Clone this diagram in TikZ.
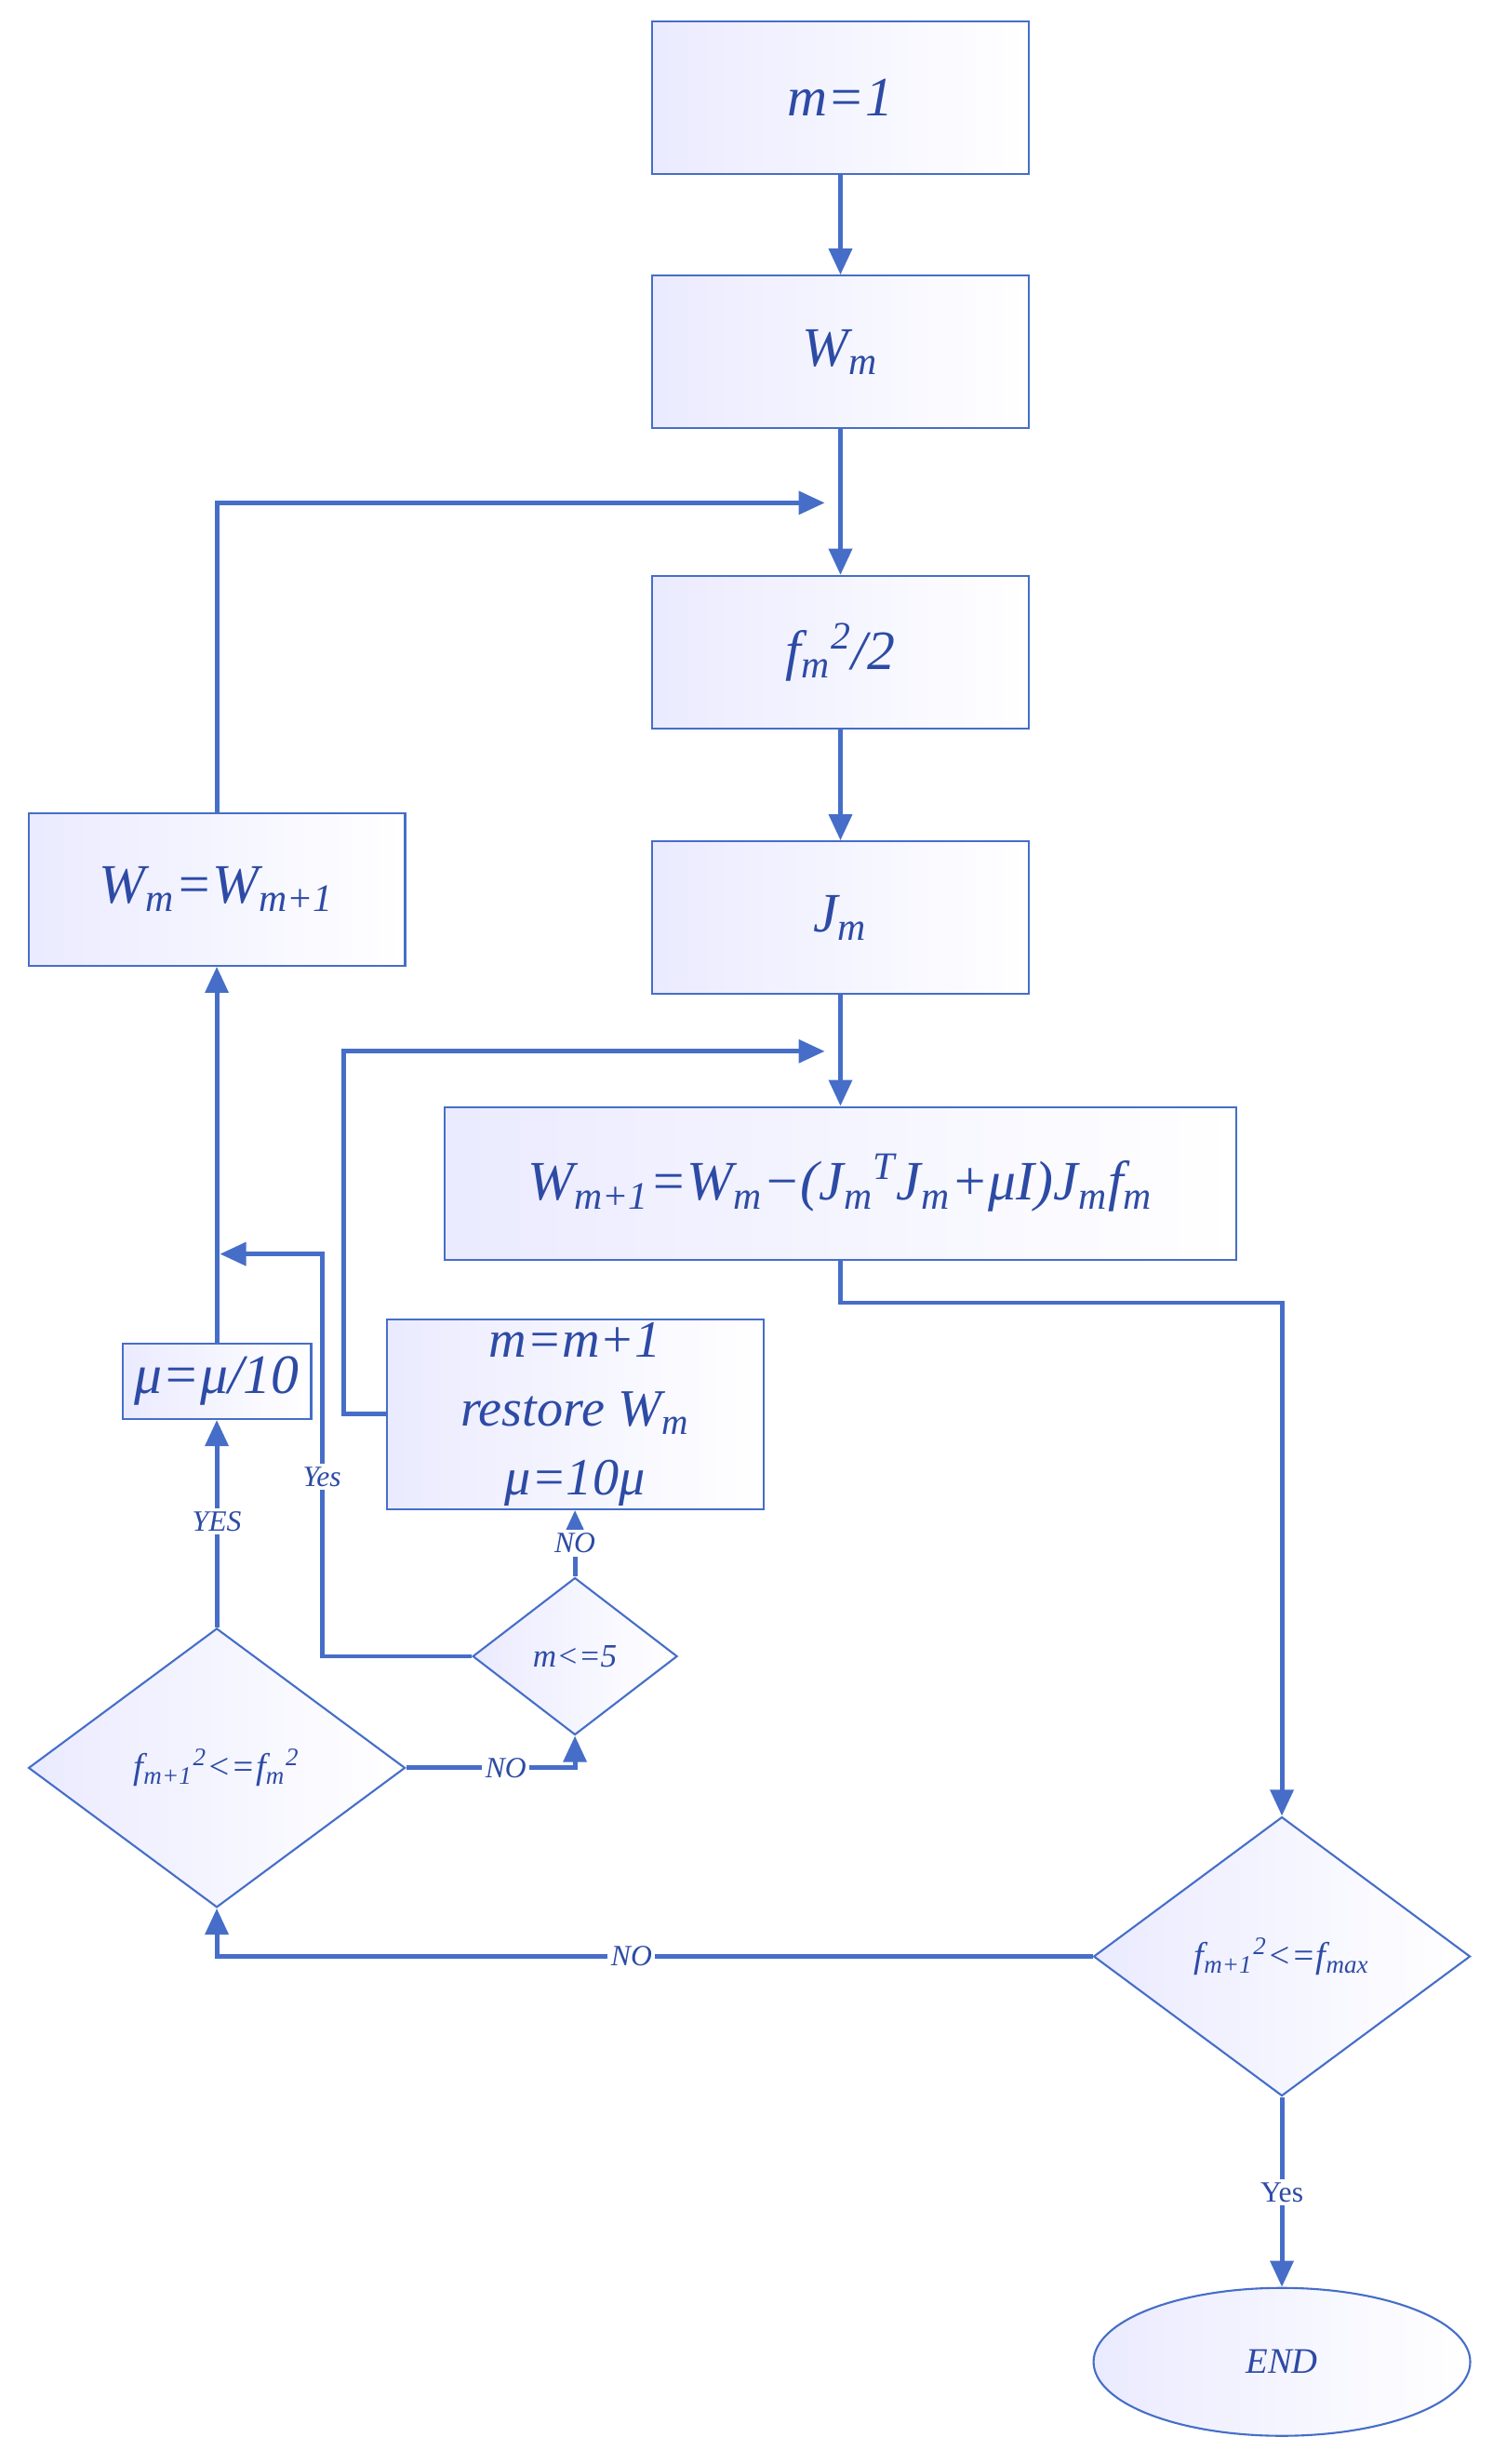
\documentclass[tikz,border=0pt]{standalone}
\usepackage{fontspec}
\setmainfont{Liberation Serif}
\usetikzlibrary{shapes.geometric,arrows.meta}
\definecolor{bd}{RGB}{70,110,200}
\definecolor{tx}{RGB}{45,75,165}
\newcommand\sbs[1]{\textsubscript{#1}}
\newcommand\sps[1]{\textsuperscript{#1}}
\begin{document}
\begin{tikzpicture}[x=0.01689cm,y=-0.01689cm,
  base/.style={draw=bd,line width=0.6pt,left color=blue!8,right color=white,text=tx,font=\itshape,inner sep=0pt},
  box/.style={base,rectangle,minimum width=4.05cm,minimum height=1.64cm,font=\fontsize{17}{21}\selectfont\itshape},
  dia/.style={base,diamond,minimum width=4.05cm,minimum height=3.0cm,font=\fontsize{11}{13}\selectfont\itshape},
  ar/.style={draw=bd,line width=1.4pt,-{Triangle[width=7pt,length=8pt]}},
  lab/.style={fill=white,text=tx,inner sep=1pt,font=\fontsize{9}{11}\selectfont\itshape}]
\useasboundingbox (0,0) rectangle (950,1568);
\node[box] (a) at (535,62) {m=1};
\node[box] (b) at (535,224) {W\sbs{m}};
\node[box] (c) at (535,415) {f\sbs{m}\sps{2}/2};
\node[box] (d) at (535,584) {J\sbs{m}};
\node[box,minimum width=8.51cm] (e) at (535,753) {W\sbs{m+1}=W\sbs{m}−(J\sbs{m}\sps{T}J\sbs{m}+μI)J\sbs{m}f\sbs{m}};
\node[box] (w) at (138,566) {W\sbs{m}=W\sbs{m+1}};
\node[box,minimum width=2.03cm,minimum height=0.81cm] (mu) at (138,879) {μ=μ/10};
\node[box,minimum height=2.04cm,align=center,font=\fontsize{16}{21}\selectfont\itshape] (mm) at (366,900) {m=m+1\\restore W\sbs{m}\\μ=10μ};
\node[dia,minimum width=2.2cm,minimum height=1.69cm,font=\fontsize{10}{12}\selectfont\itshape] (m5) at (366,1054) {m<=5};
\node[dia] (ld) at (138,1125) {f\sbs{m+1}\sps{2}<=f\sbs{m}\sps{2}};
\node[dia] (rd) at (816,1245) {f\sbs{m+1}\sps{2}<=f\sbs{max}};
\node[base,ellipse,minimum width=4.05cm,minimum height=1.59cm,font=\fontsize{11}{13}\selectfont\itshape] (end) at (816,1503) {END};
\coordinate (t1) at (535,320);
\coordinate (t2) at (535,669);
\coordinate (t3) at (138,798);
\draw[ar] (a) -- (b);
\draw[ar] (b) -- (c);
\draw[ar] (c) -- (d);
\draw[ar] (d) -- (e);
\draw[ar] (w.north) |- ([xshift=-10*0.01689cm]t1);
\draw[ar] (e.south) -- (535,829) -| (rd.north);
\draw[ar] (rd.west) -- (138,1245) -- (ld.south);
\node[lab] at (402,1245) {NO};
\draw[ar] (rd.south) -- (end.north);
\node[lab,font=\fontsize{9}{11}\selectfont] at (816,1395) {Yes};
\draw[ar] (ld.east) -| (m5.south);
\node[lab] at (322,1125) {NO};
\draw[ar] (m5.north) -- (mm.south);
\node[lab] at (366,982) {NO};
\draw[ar] (m5.west) -- (205,1054) |- ([xshift=2*0.01689cm]t3);
\node[lab] at (205,940) {Yes};
\draw[ar] (ld.north) -- (mu.south);
\node[lab] at (138,968) {YES};
\draw[ar] (mu.north) -- (w.south);
\draw[ar] (mm.west) -- (219,900) |- ([xshift=-10*0.01689cm]t2);
\end{tikzpicture}
\end{document}
